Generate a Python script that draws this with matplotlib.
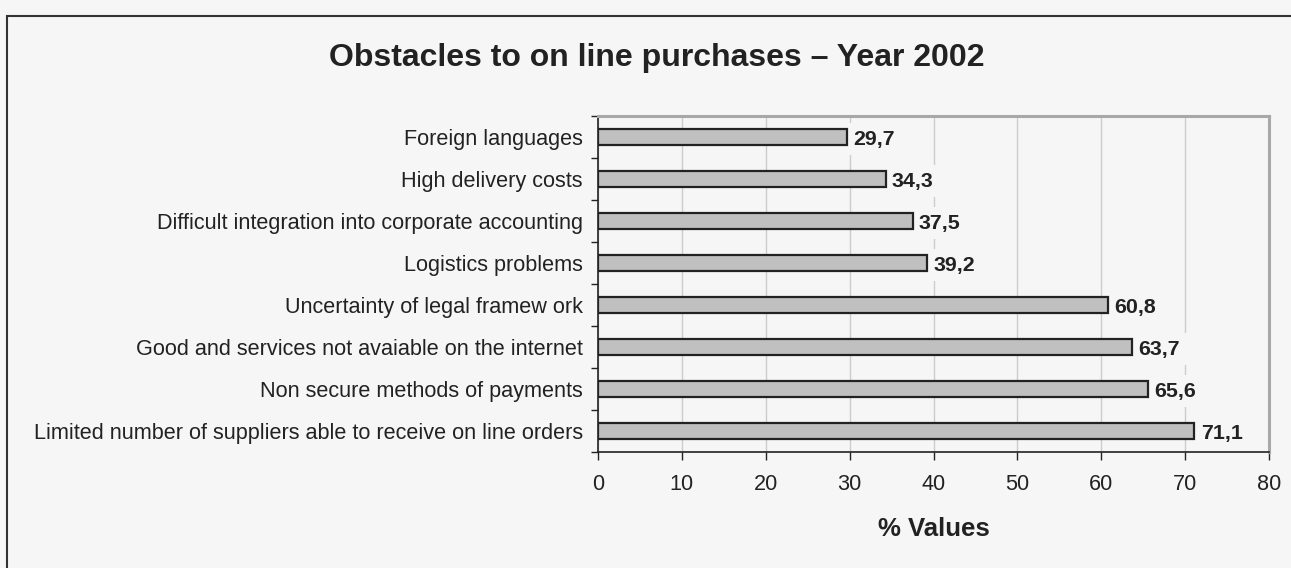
import matplotlib.pyplot as plt
from matplotlib.patches import Rectangle
import numpy as np

categories = [
    "Foreign languages",
    "High delivery costs",
    "Difficult integration into corporate accounting",
    "Logistics problems",
    "Uncertainty of legal framew ork",
    "Good and services not avaiable on the internet",
    "Non secure methods of payments",
    "Limited number of suppliers able to receive on line orders",
]
values = [29.7, 34.3, 37.5, 39.2, 60.8, 63.7, 65.6, 71.1]
x_ticks = [0, 10, 20, 30, 40, 50, 60, 70, 80]

bg = "#f6f6f6"
plt.rcParams['font.family'] = ['Liberation Sans', 'DejaVu Sans']

fig = plt.figure(figsize=(12.91, 5.68), dpi=100, facecolor=bg)
W, H = 1291, 568
ax = fig.add_axes([598 / W, 1 - 452 / H, (1269 - 598) / W, (452 - 116) / H])
ax.set_facecolor(bg)

# outer frame (only left and top edges fall inside the picture)
fig.patches.append(Rectangle((7 / W, -0.1), 1.2, 1 - 16 / H + 0.1,
                             transform=fig.transFigure, fill=False,
                             ec="#333333", lw=1.5))

y = np.arange(len(categories))
ax.barh(y, values, height=0.38, color="#c0c0c0", edgecolor="#222222",
        linewidth=1.6, zorder=3)

for yi, v in zip(y, values):
    ax.text(v + 0.75, yi, f"{v:.1f}".replace(".", ","), va="center_baseline",
            ha="left", fontsize=15.4, fontweight="bold", color="#222222",
            zorder=2.5,
            bbox=dict(boxstyle="square,pad=0.3", fc=bg, ec="none"))

ax.set_xlim(0, 80)
ax.set_ylim(len(categories) - 0.5, -0.5)
ax.set_xticks(x_ticks)
ax.xaxis.grid(True, color="#cccccc", linewidth=1.0, zorder=0)
ax.set_axisbelow(True)

ax.set_yticks(y)
ax.set_yticklabels(categories, fontsize=15.6, color="#222222")
ax.set_yticks(np.arange(len(categories) + 1) - 0.5, minor=True)
ax.tick_params(axis="y", which="major", length=0, pad=11)
ax.tick_params(axis="y", which="minor", length=5, width=1, color="#222222")
ax.tick_params(axis="x", length=6, width=1, color="#222222",
               labelsize=15.6, labelcolor="#222222", pad=10)

for s in ("left", "bottom"):
    ax.spines[s].set_color("#222222")
    ax.spines[s].set_linewidth(1.2)
for s in ("top", "right"):
    ax.spines[s].set_color("#a8a8a8")
    ax.spines[s].set_linewidth(2.2)

ax.set_xlabel("% Values", fontsize=18.5, fontweight="bold", color="#222222",
              labelpad=16)
fig.text(657 / W, 1 - 58 / H, "Obstacles to on line purchases \u2013 Year 2002",
         ha="center", va="center", fontsize=23, fontweight="bold",
         color="#222222")

fig.savefig("out.png", dpi=100, facecolor=bg)
